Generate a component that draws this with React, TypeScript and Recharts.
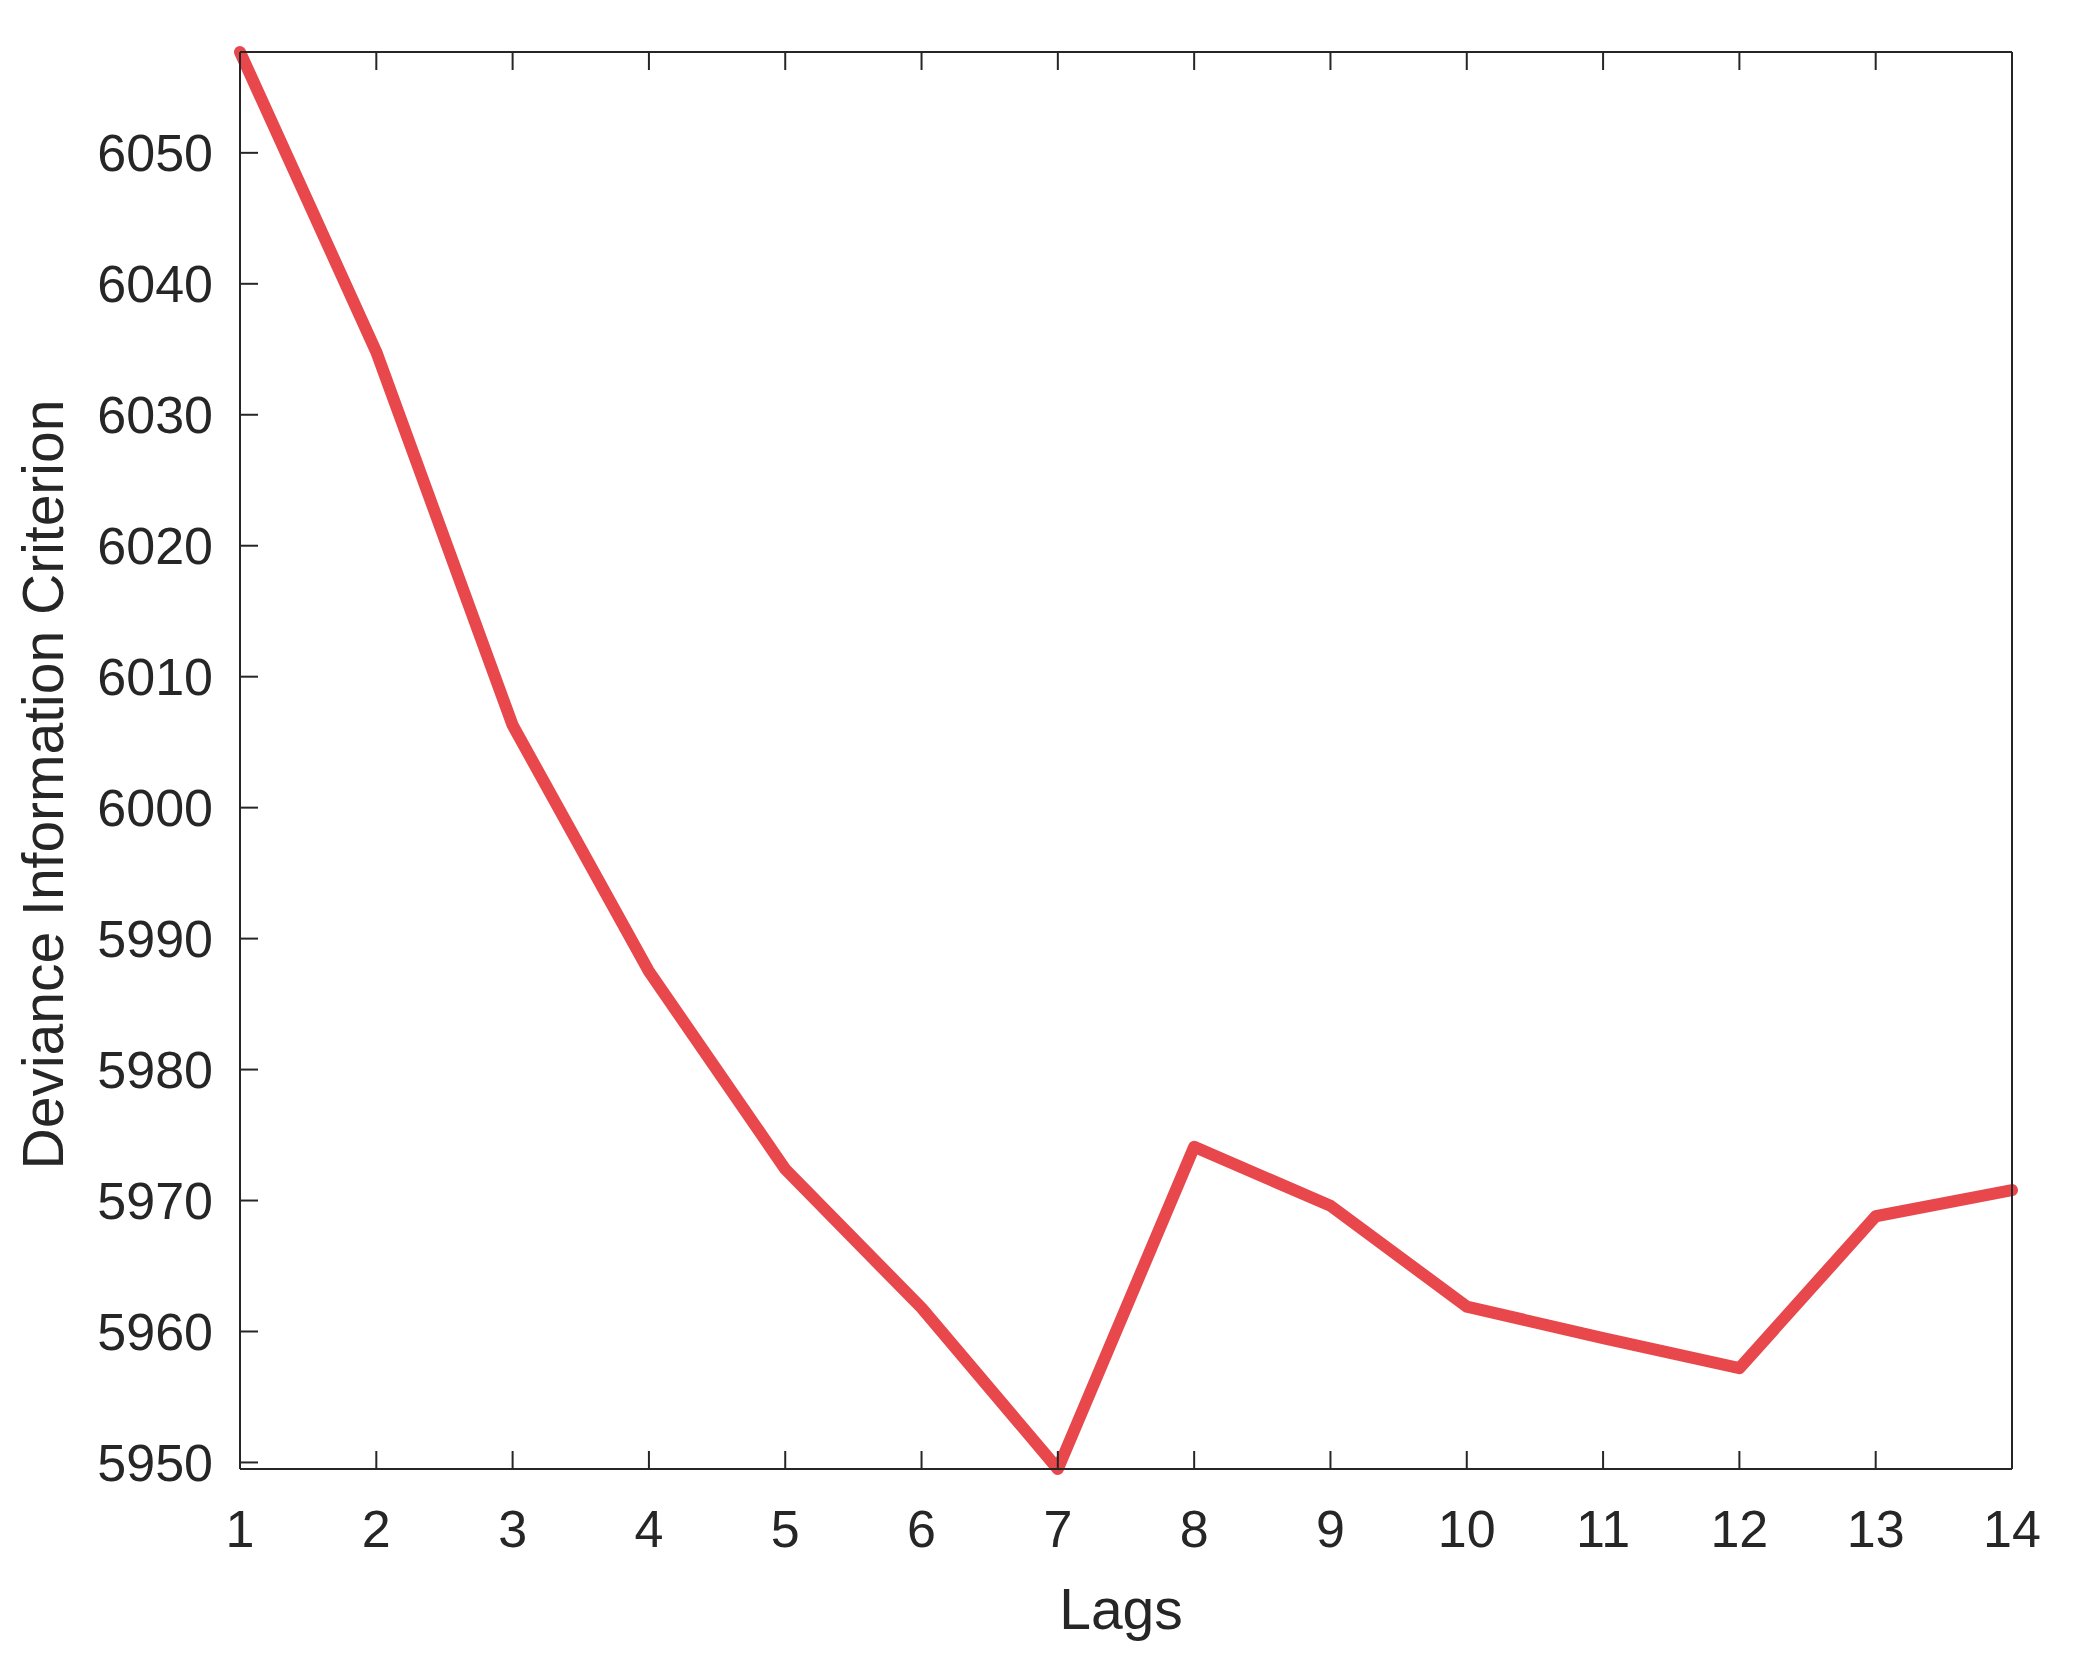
import { LineChart, Line, XAxis, YAxis } from "recharts"

const LAGS = [1, 2, 3, 4, 5, 6, 7, 8, 9, 10, 11, 12, 13, 14]
const DIC = [6057.7, 6034.8, 6006.3, 5987.5, 5972.4, 5961.8, 5949.5, 5974.1, 5969.6, 5961.9, 5959.5, 5957.2, 5968.8, 5970.8]
const Y_TICKS = [5950, 5960, 5970, 5980, 5990, 6000, 6010, 6020, 6030, 6040, 6050]
const Y_DOMAIN = [5949.5, 6057.7]

const data = LAGS.map((lag, i) => ({ lag, dic: DIC[i] }))

const FONT = "'Liberation Sans', Arial, Helvetica, sans-serif"
const INK = "#262626"
const RED = "#e8474c"
const TICK_LEN = 18
const X_GAP = 41
const Y_GAP = 27

type TickProps = { x?: number; y?: number; payload?: { value: number } }

// ticks point into the plot, labels stay outside (matlab style)
const BottomTick = ({ x = 0, y = 0, payload }: TickProps) => (
  <g>
    <line x1={x} x2={x} y1={y - X_GAP} y2={y - X_GAP - TICK_LEN} stroke={INK} strokeWidth={2} />
    <text x={x} y={y} dy="0.71em" textAnchor="middle" fontSize={52} fontFamily={FONT} fill={INK}>
      {payload?.value}
    </text>
  </g>
)

const LeftTick = ({ x = 0, y = 0, payload }: TickProps) => (
  <g>
    <line x1={x + Y_GAP} x2={x + Y_GAP + TICK_LEN} y1={y} y2={y} stroke={INK} strokeWidth={2} />
    <text x={x} y={y} dy="0.355em" textAnchor="end" fontSize={52} fontFamily={FONT} fill={INK}>
      {payload?.value}
    </text>
  </g>
)

const TopTick = ({ x = 0, y = 0 }: TickProps) => (
  <line x1={x} x2={x} y1={y} y2={y + TICK_LEN} stroke={INK} strokeWidth={2} />
)

const RightTick = ({ x = 0, y = 0 }: TickProps) => (
  <line x1={x} x2={x - TICK_LEN} y1={y} y2={y} stroke={INK} strokeWidth={2} />
)

type Box = { viewBox?: { x: number; y: number; width: number; height: number } }

const YTitle = ({ viewBox }: Box) => {
  if (!viewBox) return null
  const x = viewBox.x + 63
  const y = viewBox.y + viewBox.height / 2 + 24
  return (
    <text x={x} y={y} transform={`rotate(-90, ${x}, ${y})`} textAnchor="middle" fontSize={57} fontFamily={FONT} fill={INK}>
      Deviance Information Criterion
    </text>
  )
}

const XTitle = ({ viewBox }: Box) => {
  if (!viewBox) return null
  return (
    <text x={viewBox.x + viewBox.width / 2 - 5} y={viewBox.y + 160} textAnchor="middle" fontSize={57} fontFamily={FONT} fill={INK}>
      Lags
    </text>
  )
}

export default function App() {
  return (
    <div style={{ position: "absolute", left: 0, top: 0, width: 2094, height: 1667, background: "#fff" }}>
      <LineChart width={2094} height={1667} data={data} margin={{ top: 51, right: 81, left: 0, bottom: 0 }}>
        <XAxis
          dataKey="lag"
          type="number"
          domain={[1, 14]}
          ticks={LAGS}
          interval={0}
          height={198}
          stroke={INK}
          strokeWidth={2}
          tickLine={false}
          tickSize={0}
          tickMargin={X_GAP}
          tick={<BottomTick />}
          label={<XTitle />}
        />
        <XAxis
          xAxisId="top"
          orientation="top"
          dataKey="lag"
          type="number"
          domain={[1, 14]}
          ticks={LAGS}
          interval={0}
          height={1}
          stroke={INK}
          strokeWidth={2}
          tickLine={false}
          tickSize={0}
          tickMargin={0}
          tick={<TopTick />}
        />
        <YAxis
          type="number"
          domain={Y_DOMAIN}
          ticks={Y_TICKS}
          interval={0}
          width={240}
          stroke={INK}
          strokeWidth={2}
          tickLine={false}
          tickSize={0}
          tickMargin={Y_GAP}
          tick={<LeftTick />}
          label={<YTitle />}
        />
        <YAxis
          yAxisId="right"
          orientation="right"
          type="number"
          domain={Y_DOMAIN}
          ticks={Y_TICKS}
          interval={0}
          width={1}
          stroke={INK}
          strokeWidth={2}
          tickLine={false}
          tickSize={0}
          tickMargin={0}
          tick={<RightTick />}
        />
        <Line
          type="linear"
          dataKey="dic"
          stroke={RED}
          strokeWidth={12}
          strokeLinejoin="round"
          strokeLinecap="round"
          dot={false}
          isAnimationActive={false}
        />
      </LineChart>
    </div>
  )
}
